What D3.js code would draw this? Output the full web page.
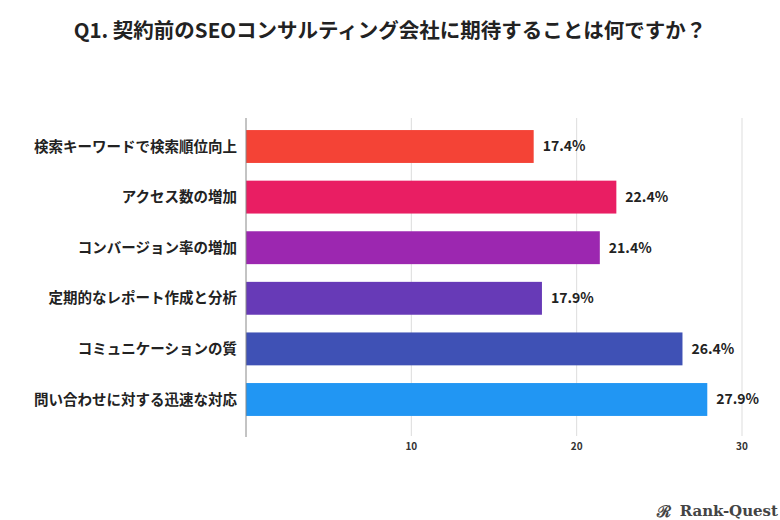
<!DOCTYPE html><html><head><meta charset="utf-8"><script src="https://cdn.jsdelivr.net/npm/d3@7"></script>
<style>body{margin:0;background:#fff}svg{display:block}</style></head><body><svg id="c" width="780" height="520"></svg>
<script>
const categories=["検索キーワードで検索順位向上","アクセス数の増加","コンバージョン率の増加","定期的なレポート作成と分析","コミュニケーションの質","問い合わせに対する迅速な対応"];
const values=[17.4,22.4,21.4,17.9,26.4,27.9];
const colors=["#F44336","#E91E63","#9C27B0","#673AB7","#3F51B5","#2196F3"];
const tickValues=[10,20,30];
const title="Q1. 契約前のSEOコンサルティング会社に期待することは何ですか？";
const svg=d3.select("#c");
const F="'Noto Sans CJK JP','Noto Sans',sans-serif";
const x=d3.scaleLinear().domain([0,30]).range([246,742]);
const y=d3.scaleBand().domain(categories).range([125,421]).paddingInner(0.35).paddingOuter(0.1);
svg.append("text").attr("x",390).attr("y",38).attr("text-anchor","middle").attr("font-family",F).attr("font-weight","bold").attr("font-size",20.5).attr("fill","#222").text(title);
svg.append("g").selectAll("line").data(tickValues).join("line").attr("x1",d=>x(d)).attr("x2",d=>x(d)).attr("y1",118).attr("y2",436).attr("stroke","#ddd");
svg.append("g").selectAll("rect").data(values).join("rect").attr("x",x(0)).attr("y",(d,i)=>y(categories[i])).attr("width",d=>x(d)-x(0)).attr("height",y.bandwidth()).attr("fill",(d,i)=>colors[i]);
svg.append("line").attr("x1",x(0)).attr("x2",x(0)).attr("y1",118).attr("y2",437).attr("stroke","#888");
svg.append("g").selectAll("text").data(values).join("text").attr("x",d=>x(d)+9).attr("y",(d,i)=>y(categories[i])+y.bandwidth()/2).attr("dy","0.35em").attr("font-family",F).attr("font-weight","bold").attr("font-size",14).attr("fill","#222").text(d=>d.toFixed(1)+"%");
svg.append("g").selectAll("text").data(categories).join("text").attr("x",237).attr("y",d=>y(d)+y.bandwidth()/2).attr("dy","0.35em").attr("text-anchor","end").attr("font-family",F).attr("font-weight","bold").attr("font-size",14.5).attr("fill","#222").text(d=>d);
svg.append("g").selectAll("text").data(tickValues).join("text").attr("x",d=>x(d)).attr("y",450).attr("text-anchor","middle").attr("font-family",F).attr("font-weight","bold").attr("font-size",10).attr("fill","#333").text(d=>d);
const lg=svg.append("g");
lg.append("text").attr("x",657).attr("y",517).attr("font-family","'DejaVu Serif',serif").attr("font-weight","bold").attr("font-size",16).attr("fill","#444").text("ℛ");
lg.append("text").attr("x",778).attr("y",516).attr("text-anchor","end").attr("font-family","'DejaVu Serif','Liberation Serif',serif").attr("font-weight","bold").attr("font-size",15).attr("fill","#444").text("Rank-Quest");
</script></body></html>
